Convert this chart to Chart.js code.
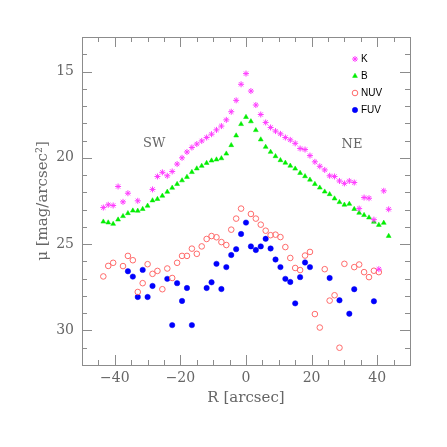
<!DOCTYPE html>
<html>
<head>
<meta charset="utf-8">
<script src="https://cdn.jsdelivr.net/npm/chart.js@4/dist/chart.umd.min.js"></script>
<style>
html, body { margin: 0; padding: 0; background: #fff; }
</style>
</head>
<body>
<canvas id="chart" width="447" height="447"></canvas>
<script>
// surface brightness profiles, R in arcsec, mu in mag/arcsec^2
var kR   = [-43.5, -42, -40.5, -39, -37.5, -36, -33, -28.5, -27, -25.5, -24, -22.5, -21, -19.5, -18, -16.5, -15, -13.5, -12, -10.5, -9, -7.5, -6, -4.5, -3, -1.5, 0,
            1.5, 3, 4.5, 6, 7.5, 9, 10.5, 12, 13.5, 15, 16.5, 18, 19.5, 21, 22.5, 24, 25.5, 27, 28.5, 30, 31.5, 33, 34.5, 36, 37.5, 39, 40.5, 42, 43.5];
var kMu  = [22.88, 22.72, 22.76, 21.66, 22.55, 22.05, 22.49, 21.83, 21.08, 20.84, 21.04, 20.79, 20.36, 20.0, 19.66, 19.4, 19.2, 19.02, 18.82, 18.63, 18.38, 18.16, 17.8, 17.33, 16.67, 15.74, 15.12,
            16.13, 16.94, 17.49, 17.95, 18.24, 18.45, 18.61, 18.82, 18.96, 19.16, 19.46, 19.52, 19.87, 20.23, 20.49, 20.7, 21.04, 21.08, 21.34, 21.48, 21.34, 21.43, 22.94, 22.3, 22.34, 23.58, 26.45, 21.91, 22.98];

var bR   = [-43.5, -42, -40.5, -39, -37.5, -36, -34.5, -33, -31.5, -30, -28.5, -27, -25.5, -24, -22.5, -21, -19.5, -18, -16.5, -15, -13.5, -12, -10.5, -9, -7.5, -6, -4.5, -3, -1.5, 0,
            1.5, 3, 4.5, 6, 7.5, 9, 10.5, 12, 13.5, 15, 16.5, 18, 19.5, 21, 22.5, 24, 25.5, 27, 28.5, 30, 31.5, 33, 34.5, 36, 37.5, 39, 40.5, 42, 43.5];
var bMu  = [23.7, 23.75, 23.83, 23.58, 23.38, 23.21, 23.06, 23.07, 22.97, 22.78, 22.47, 22.39, 22.2, 21.97, 21.74, 21.52, 21.31, 21.11, 20.83, 20.62, 20.47, 20.3, 20.16, 20.1, 20.03, 19.76, 19.27, 18.71, 18.05, 17.64,
            17.89, 18.4, 18.94, 19.37, 19.66, 19.91, 20.14, 20.29, 20.46, 20.63, 20.88, 21.07, 21.27, 21.52, 21.73, 21.96, 22.11, 22.36, 22.57, 22.72, 22.67, 22.97, 23.19, 23.32, 23.46, 23.71, 23.89, 23.77, 24.53];

var nuvR  = [-43.5, -42, -40.5, -37.5, -36, -34.5, -33, -31.5, -30, -28.5, -27, -25.5, -24, -22.5, -21, -19.5, -18, -16.5, -15, -13.5, -12, -10.5, -9, -7.5, -6, -4.5, -3, -1.5,
             1.5, 3, 4.5, 6, 7.5, 9, 10.5, 12, 13.5, 15, 16.5, 18, 19.5, 21, 22.5, 24, 25.5, 27, 28.5, 30, 33, 34.5, 36, 37.5, 39, 40.5];
var nuvMu = [26.87, 26.26, 26.08, 26.27, 25.68, 25.93, 27.77, 27.26, 26.16, 26.72, 26.55, 27.61, 26.41, 26.96, 26.08, 25.68, 25.68, 25.26, 25.56, 25.13, 24.7, 24.53, 24.6, 24.88, 25.05, 24.16, 23.52, 22.94,
             23.25, 23.52, 23.87, 24.22, 24.48, 24.45, 24.59, 25.17, 25.8, 26.38, 26.5, 25.66, 25.45, 29.05, 29.83, 26.45, 28.27, 27.96, 31.0, 26.14, 26.33, 26.18, 26.62, 26.91, 26.54, 26.62];

var fuvR  = [-36, -34.5, -33, -31.5, -30, -28.5, -24, -22.5, -21, -19.5, -18, -16.5, -12, -10.5, -9, -7.5, -6, -4.5, -3, -1.5, 0,
             1.5, 3, 4.5, 6, 7.5, 9, 10.5, 12, 13.5, 15, 16.5, 18, 19.5, 25.5, 28.5, 31.5, 33, 39];
var fuvMu = [26.57, 26.88, 28.06, 26.49, 28.06, 27.42, 27.01, 29.69, 27.26, 28.29, 27.54, 29.69, 27.54, 27.21, 26.14, 27.6, 26.33, 25.63, 25.29, 24.41, 23.75,
             25.13, 25.34, 25.13, 24.69, 25.25, 25.89, 26.33, 27.01, 27.19, 28.43, 26.91, 26.06, 26.33, 26.96, 28.25, 29.03, 27.61, 28.31];

var seriesNames = ["K", "B", "NUV", "FUV"];
var sideLabels = [
    { text: "SW", r: -28, mu: 19.2 },
    { text: "NE", r: 32.3, mu: 19.25 }
];

function pairs(xs, ys) {
    var out = [];
    for (var i = 0; i < xs.length; i++) {
        out.push({ x: xs[i], y: ys[i] });
    }
    return out;
}

var axisGray = "#8c8c8c";
var textGray = "#666666";
var serif = "'DejaVu Serif', 'Liberation Serif', serif";

// ticks pointing inwards on all four sides, plus the box
var frameTicks = {
    id: "frameTicks",
    beforeDatasetsDraw: function (chart) {
        var ctx = chart.ctx;
        var a = chart.chartArea;
        var xs = chart.scales.x, ys = chart.scales.y;
        ctx.save();
        ctx.strokeStyle = axisGray;
        ctx.lineWidth = 1;
        ctx.strokeRect(a.left + 0.5, a.top + 0.5, a.right - a.left, a.bottom - a.top);
        ctx.beginPath();
        xs.ticks.forEach(function (t) {
            var px = Math.round(xs.getPixelForValue(t.value)) + 0.5;
            var len = (t.value % 20 === 0) ? 10 : 5;
            ctx.moveTo(px, a.bottom); ctx.lineTo(px, a.bottom - len);
            ctx.moveTo(px, a.top); ctx.lineTo(px, a.top + len);
        });
        ys.ticks.forEach(function (t) {
            var py = Math.round(ys.getPixelForValue(t.value)) + 0.5;
            var len = (t.value % 5 === 0) ? 10 : 5;
            ctx.moveTo(a.left, py); ctx.lineTo(a.left + len, py);
            ctx.moveTo(a.right, py); ctx.lineTo(a.right - len, py);
        });
        ctx.stroke();
        ctx.restore();
    },
    afterDatasetsDraw: function (chart) {
        var ctx = chart.ctx;
        var xs = chart.scales.x, ys = chart.scales.y;
        ctx.save();
        ctx.fillStyle = textGray;
        ctx.font = "13px " + serif;
        ctx.textAlign = "center";
        ctx.textBaseline = "middle";
        sideLabels.forEach(function (s) {
            ctx.fillText(s.text, xs.getPixelForValue(s.r), ys.getPixelForValue(s.mu));
        });

        // legend inside the box, top right
        var lx = 355, ly = 59, step = 17;
        chart.data.datasets.forEach(function (ds, i) {
            var y = ly + i * step;
            ctx.fillStyle = ds.backgroundColor;
            ctx.strokeStyle = ds.borderColor;
            ctx.lineWidth = ds.borderWidth;
            Chart.helpers.drawPoint(ctx, {
                pointStyle: ds.pointStyle,
                radius: ds.pointRadius,
                rotation: 0,
                borderWidth: ds.borderWidth
            }, lx, y);
            ctx.fillStyle = "#000";
            ctx.font = "10px 'Liberation Sans', Arial, sans-serif";
            ctx.textAlign = "left";
            ctx.fillText(ds.label, lx + 6, y + 0.5);
        });
        ctx.restore();
    }
};

new Chart(document.getElementById("chart"), {
    type: "scatter",
    data: {
        datasets: [{
            label: seriesNames[0],
            data: pairs(kR, kMu),
            pointStyle: "star",
            pointRadius: 3,
            borderWidth: 1,
            borderColor: "#ff3cff",
            backgroundColor: "#ff9cff"
        }, {
            label: seriesNames[1],
            data: pairs(bR, bMu),
            pointStyle: "triangle",
            pointRadius: 2.8,
            borderWidth: 0.5,
            borderColor: "#00e600",
            backgroundColor: "#00f000"
        }, {
            label: seriesNames[2],
            data: pairs(nuvR, nuvMu),
            pointStyle: "circle",
            pointRadius: 2.8,
            borderWidth: 1,
            borderColor: "#ff6a6a",
            backgroundColor: "rgba(0,0,0,0)"
        }, {
            label: seriesNames[3],
            data: pairs(fuvR, fuvMu),
            pointStyle: "circle",
            pointRadius: 2.7,
            borderWidth: 0.5,
            borderColor: "#0000f0",
            backgroundColor: "#0000ff"
        }]
    },
    options: {
        responsive: false,
        animation: false,
        devicePixelRatio: 1,
        layout: { padding: { left: 0, right: 37, top: 37, bottom: 0 } },
        plugins: {
            legend: { display: false },
            tooltip: { enabled: false }
        },
        scales: {
            x: {
                type: "linear",
                min: -50,
                max: 50,
                grid: { display: false, drawTicks: false },
                border: { display: false },
                afterFit: function (scale) { scale.height = 82; },
                ticks: {
                    stepSize: 5,
                    padding: 5,
                    autoSkip: false,
                    maxRotation: 0,
                    color: textGray,
                    font: { family: serif, size: 14 },
                    callback: function (v) {
                        if (v % 20 !== 0) return "";
                        return v < 0 ? "\u2212" + Math.abs(v) : String(v);
                    }
                },
                title: {
                    display: true,
                    text: "R [arcsec]",
                    color: textGray,
                    font: { family: serif, size: 15 },
                    padding: { top: 40, bottom: 40 }
                }
            },
            y: {
                type: "linear",
                reverse: true,
                min: 13,
                max: 32,
                grid: { display: false, drawTicks: false },
                border: { display: false },
                afterFit: function (scale) { scale.width = 82; },
                ticks: {
                    stepSize: 1,
                    padding: 8,
                    autoSkip: false,
                    color: textGray,
                    font: { family: serif, size: 14 },
                    callback: function (v) {
                        return v % 5 === 0 ? String(v) : "";
                    }
                },
                title: {
                    display: true,
                    text: "\u03bc [mag/arcsec\u00b2]",
                    color: textGray,
                    font: { family: serif, size: 15 },
                    padding: { top: 34, bottom: 34 }
                }
            }
        }
    },
    plugins: [frameTicks]
});
</script>
</body>
</html>
